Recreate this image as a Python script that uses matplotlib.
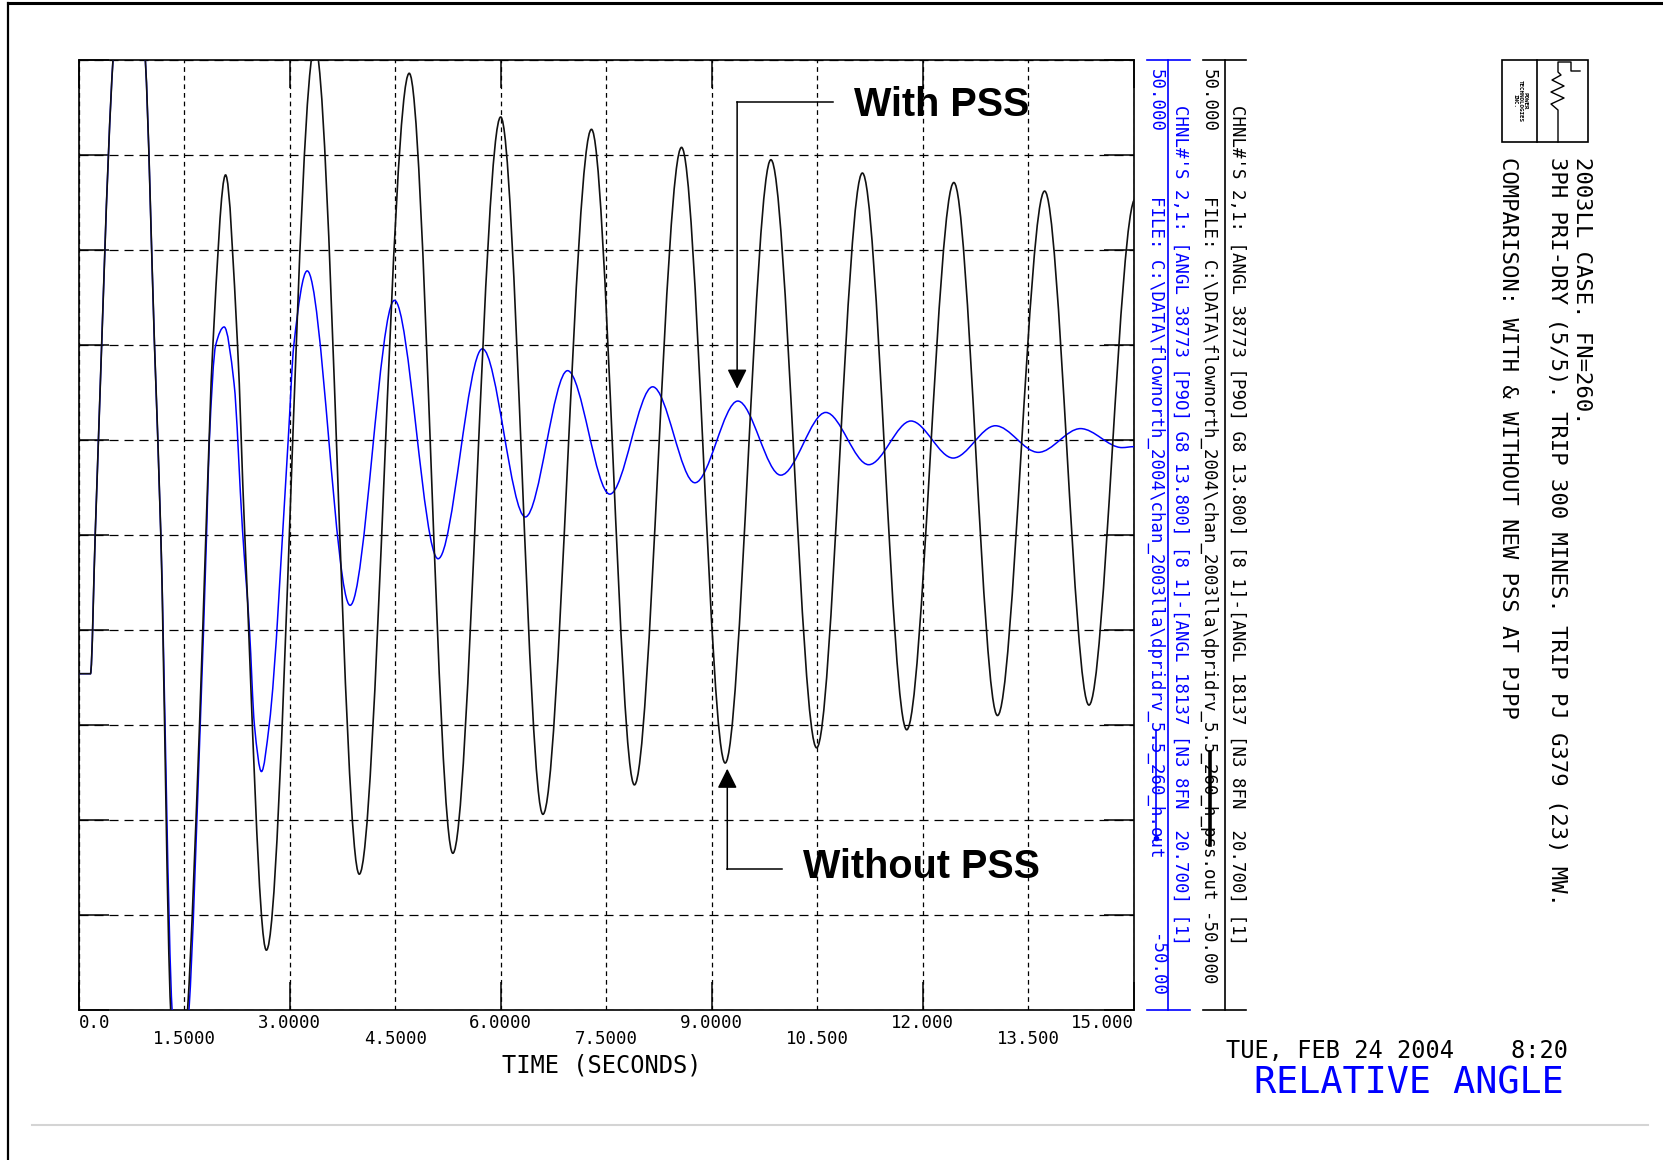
import numpy as np
import matplotlib
matplotlib.use("Agg")
import matplotlib.pyplot as plt
from matplotlib.path import Path
from matplotlib.patches import PathPatch, Rectangle

plt.rcParams['font.family'] = ['DejaVu Sans Mono', 'DejaVu Sans']
plt.rcParams['lines.scale_dashes'] = False

# valeurs (temps en s, angle relatif en degres)
t_sans = [0.0, 0.17, 0.24, 0.49, 0.72, 0.95, 1.08, 1.17, 1.31, 1.43, 1.55, 1.72,
          1.81, 1.91, 2.09, 2.26, 2.36, 2.67, 3.36, 3.99, 4.70, 5.32, 6.00, 6.60,
          7.29, 7.90, 8.57, 9.19, 9.84, 10.49, 11.14, 11.77, 12.44, 13.06, 13.73,
          14.36, 15.02]
v_sans = [-14.6, -14.6, 0.6, 50.0, 70.0, 50.0, 20.0, 0.0, -50.0, -61.0, -50.0, -20.0,
          0.0, 20.0, 37.9, 20.0, 0.6, -43.7, 51.5, -35.7, 48.6, -33.5, 44.0, -29.4,
          42.7, -26.3, 40.8, -24.0, 39.5, -22.4, 38.1, -20.5, 37.1, -19.0, 36.2,
          -17.9, 35.4]

t_avec = [0.0, 0.17, 0.24, 0.49, 0.72, 0.95, 1.08, 1.17, 1.33, 1.45, 1.57, 1.73,
          1.82, 1.86, 1.95, 2.07, 2.21, 2.33, 2.43, 2.50, 2.60, 2.71, 2.98, 3.06,
          3.25, 3.86, 4.49, 5.11, 5.74, 6.35, 6.95, 7.55, 8.16, 8.76, 9.37, 9.98,
          10.62, 11.23, 11.83, 12.43, 13.03, 13.64, 14.24, 14.83, 15.0]
v_avec = [-14.6, -14.6, 0.6, 50.0, 70.0, 50.0, 20.0, 0.0, -50.0, -60.0, -50.0, -20.0,
          0.0, 10.0, 20.0, 21.9, 16.0, 0.6, -10.0, -20.0, -24.9, -20.0, 10.0, 20.0,
          27.8, -7.4, 24.7, -2.5, 19.6, 1.9, 17.3, 4.3, 15.6, 5.5, 14.1, 6.3,
          12.9, 7.4, 12.0, 8.1, 11.5, 8.7, 11.2, 9.2, 9.3]

major_x = [0.0, 3.0, 6.0, 9.0, 12.0, 15.0]
major_lab = ['0.0', '3.0000', '6.0000', '9.0000', '12.000', '15.000']
minor_x = [1.5, 4.5, 7.5, 10.5, 13.5]
minor_lab = ['1.5000', '4.5000', '7.5000', '10.500', '13.500']
y_lignes = np.arange(-50, 51, 10)

chnl = "CHNL#'S 2,1: [ANGL 38773 [P9O] G8 13.800] [8 1]-[ANGL 18137 [N3 8FN  20.700] [1]"
fichier_bleu = "FILE: C:\\DATA\\flownorth_2004\\chan_2003lla\\dpridrv_5.5_260_h.out"
fichier_noir = "FILE: C:\\DATA\\flownorth_2004\\chan_2003lla\\dpridrv_5.5_260_h_pss.out -50.000"

W, H = 1663, 1160
BLEU = '#0000ff'
NOIR = '#111111'


def courbe(t, v):
    # courbe lisse passant par les points lus (segments de Bezier)
    t = np.asarray(t, float)
    v = np.asarray(v, float)
    h = np.diff(t)
    d = np.diff(v) / h
    m = np.zeros_like(v)
    for k in range(1, len(v) - 1):
        if d[k - 1] * d[k] > 0:
            w1 = 2 * h[k] + h[k - 1]
            w2 = h[k] + 2 * h[k - 1]
            m[k] = (w1 + w2) / (w1 / d[k - 1] + w2 / d[k])
    verts = [(t[0], v[0])]
    codes = [Path.MOVETO]
    for k in range(len(h)):
        verts += [(t[k] + h[k] / 3, v[k] + m[k] * h[k] / 3),
                  (t[k + 1] - h[k] / 3, v[k + 1] - m[k + 1] * h[k] / 3),
                  (t[k + 1], v[k + 1])]
        codes += [Path.CURVE4] * 3
    return Path(verts, codes)


fig = plt.figure(figsize=(W / 100, H / 100), dpi=100)

# calque pour tout ce qui est hors du graphe
ov = fig.add_axes([0, 0, 1, 1])
ov.set_xlim(0, W)
ov.set_ylim(H, 0)
ov.axis('off')

ax = fig.add_axes([78.5 / W, 1 - 1010 / H, (1134 - 78.5) / W, 950 / H])
ax.set_zorder(2)
ax.patch.set_alpha(0)
ax.set_xlim(0, 15)
ax.set_ylim(-50, 50)

ax.set_xticks(major_x)
ax.set_xticklabels(major_lab)
ax.set_xticks(minor_x, minor=True)
ax.set_xticklabels(minor_lab, minor=True)
ax.set_yticks(y_lignes)
ax.set_yticklabels([])
ax.tick_params(axis='x', which='major', direction='in', length=20, width=1.1,
               top=True, bottom=True, pad=3, labelsize=12.5)
ax.tick_params(axis='x', which='minor', direction='in', length=0, pad=14.5,
               labelsize=12.5)
ax.tick_params(axis='y', which='major', direction='in', length=21.5, width=1.1,
               left=True, right=True)
ax.get_xticklabels()[0].set_horizontalalignment('left')
ax.get_xticklabels()[-1].set_horizontalalignment('right')

ax.grid(axis='y', which='major', color='k', lw=0.9, linestyle=(0, (6.5, 4.3)))
ax.grid(axis='x', which='both', color='k', lw=0.9, linestyle=(0, (3.4, 2.8)))
ax.set_axisbelow(True)
for s in ax.spines.values():
    s.set_linewidth(1.2)

ax.add_patch(PathPatch(courbe(t_avec, v_avec), fill=False, edgecolor=BLEU, lw=1.1, zorder=3))
ax.add_patch(PathPatch(courbe(t_sans, v_sans), fill=False, edgecolor=NOIR, lw=1.2, zorder=4))

# fleches et etiquettes
fleche = dict(arrowstyle='-|>,head_length=0.6,head_width=0.3', color='k', lw=1.1,
              mutation_scale=20, shrinkA=0, shrinkB=0)
ax.plot([9.36, 10.72], [45.6, 45.6], color='k', lw=1.1, zorder=5)
ax.annotate('', xy=(9.36, 15.4), xytext=(9.36, 45.6), arrowprops=fleche, zorder=5)
ax.text(11.02, 45.3, 'With PSS', ha='left', va='center', fontsize=28.5,
        fontweight='bold', family='Liberation Sans', zorder=5)
ax.plot([9.22, 10.0], [-35.2, -35.2], color='k', lw=1.1, zorder=5)
ax.annotate('', xy=(9.22, -24.6), xytext=(9.22, -35.2), arrowprops=fleche, zorder=5)
ax.text(10.29, -35.0, 'Without PSS', ha='left', va='center', fontsize=28.5,
        fontweight='bold', family='Liberation Sans', zorder=5)

# axes des canaux a droite
for x0, xa, xb, c in [(1168, 1147, 1190, BLEU), (1225, 1203, 1246, 'k')]:
    ov.plot([x0, x0], [60, 1010], color=c, lw=1.2)
    ov.plot([xa, xb], [60, 60], color=c, lw=1.2)
    ov.plot([xa, xb], [1010, 1010], color=c, lw=1.2)

kw = dict(rotation=-90, ha='center', fontsize=12.5)
ov.text(1156, 69, '50.000', va='top', color=BLEU, **kw)
ov.text(1156, 196, fichier_bleu, va='top', color=BLEU, **kw)
ov.text(1156, 997, '-50.00', va='bottom', color=BLEU, **kw)
ov.text(1180, 105, chnl, va='top', color=BLEU, **kw)
ov.text(1209, 69, '50.000', va='top', color='k', **kw)
ov.text(1209, 196, fichier_noir, va='top', color='k', **kw)
ov.text(1237, 105, chnl, va='top', color='k', **kw)

# traits de legende sur les noms de fichiers
ov.plot([1156, 1156], [730, 838], color=BLEU, lw=1.2)
ov.plot([1156], [838], 'o', ms=3, color=BLEU)
ov.plot([1210, 1210], [752, 845], color='k', lw=2.6)

# titres
kt = dict(rotation=-90, ha='center', va='top', fontsize=16, color='k')
ov.text(1582, 157, '2003LL CASE. FN=260.', **kt)
ov.text(1557, 157, '3PH PRI-DRY (5/5). TRIP 300 MINES. TRIP PJ G379 (23) MW.', **kt)
ov.text(1508, 157, 'COMPARISON: WITH & WITHOUT NEW PSS AT PJPP', **kt)

ov.text(602, 1065, 'TIME (SECONDS)', ha='center', va='center', fontsize=17)
ov.text(1226, 1051, 'TUE, FEB 24 2004    8:20', ha='left', va='center', fontsize=17)
ov.text(1254, 1083, 'RELATIVE ANGLE', ha='left', va='center', fontsize=26.5, color=BLEU)

# logo
ov.add_patch(Rectangle((1502, 60), 86, 82, fill=False, lw=1.2, edgecolor='k'))
ov.plot([1537, 1537], [60, 142], color='k', lw=1.2)
ov.plot([1558, 1558, 1551, 1564, 1551, 1564, 1552, 1561, 1558, 1558, 1571, 1571, 1580],
        [142, 110, 104, 98, 92, 86, 80, 75, 72, 62, 62, 71, 71], color='k', lw=1.0)
ov.text(1520, 101, 'POWER\nTECHNOLOGIES\nINC.', rotation=-90, ha='center', va='center',
        fontsize=4.2, fontweight='bold', linespacing=0.95)

# cadre de la page
ov.plot([8, W], [3, 3], color='k', lw=2.2, clip_on=False)
ov.plot([8, 8], [3, H], color='k', lw=1.6, clip_on=False)
ov.plot([32, 1648], [1125, 1125], color='#d4d4d4', lw=1.5)

fig.savefig('out.png', dpi=100)
